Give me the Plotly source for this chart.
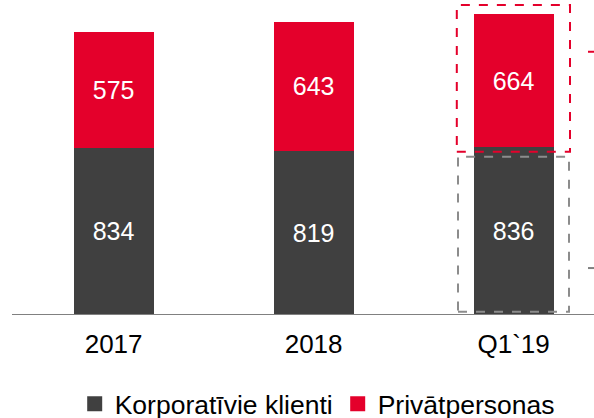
import plotly.graph_objects as go

categories = ["2017", "2018", "Q1`19"]
korporativie = [834, 819, 836]
privatpersonas = [575, 643, 664]
series_names = ["Korporatīvie klienti", "Privātpersonas"]

DARK = "#404040"
RED = "#E4002B"
FONT = "Liberation Sans, Arial, sans-serif"
FS = 25

x_idx = list(range(len(categories)))

fig = go.Figure()
fig.add_trace(go.Bar(
    x=x_idx, y=korporativie, name=series_names[0], showlegend=False,
    marker=dict(color=DARK, line=dict(width=0)), width=0.4,
    text=[str(v) for v in korporativie], textposition="inside",
    insidetextanchor="middle", textfont=dict(color="white", size=FS, family=FONT),
    constraintext="none", hoverinfo="skip",
))
fig.add_trace(go.Bar(
    x=x_idx, y=privatpersonas, name=series_names[1], showlegend=False,
    marker=dict(color=RED, line=dict(width=0)), width=0.4,
    text=[str(v) for v in privatpersonas], textposition="inside",
    insidetextanchor="middle", textfont=dict(color="white", size=FS, family=FONT),
    constraintext="none", hoverinfo="skip",
))
# legend entries with square swatches
for nm, col in zip(series_names, [DARK, RED]):
    fig.add_trace(go.Scatter(
        x=[None], y=[None], mode="markers", name=nm,
        marker=dict(symbol="square", size=15, color=col),
    ))

last = len(categories) - 1
bottom = korporativie[last]
total = korporativie[last] + privatpersonas[last]

shapes = [
    # baseline axis
    dict(type="line", xref="x", yref="y", x0=-0.508, x1=2.402, y0=0, y1=0,
         line=dict(color="#808080", width=2)),
    # red dashed box around last private segment
    dict(type="rect", xref="x", yref="y", x0=last - 0.284, x1=last + 0.282,
         y0=bottom - 22, y1=total + 45,
         line=dict(color=RED, width=2, dash="dash")),
    # gray dashed box around last corporate segment
    dict(type="rect", xref="x", yref="y", x0=last - 0.278, x1=last + 0.277,
         y0=16, y1=bottom - 47,
         line=dict(color="#8c8c8c", width=2, dash="dash")),
    # cut-off markers at right edge
    dict(type="line", xref="x", yref="y", x0=2.372, x1=2.402, y0=1312, y1=1312,
         line=dict(color=RED, width=2)),
    dict(type="line", xref="x", yref="y", x0=2.372, x1=2.402, y0=234, y1=234,
         line=dict(color="#808080", width=2)),
]

fig.update_layout(
    width=594, height=418,
    margin=dict(l=0, r=0, t=0, b=103, autoexpand=False),
    paper_bgcolor="white", plot_bgcolor="white",
    barmode="stack",
    showlegend=True,
    legend=dict(orientation="h", x=0.534, xanchor="center", y=-0.283, yanchor="middle",
                font=dict(size=26.5, family=FONT, color="black"), traceorder="normal",
                itemwidth=30),
    xaxis=dict(range=[-0.568, 2.402], tickmode="array", tickvals=x_idx, ticktext=categories,
               showgrid=False, zeroline=False, showline=False, ticks="",
               tickfont=dict(size=26, family=FONT, color="black"), ticklabelstandoff=11),
    yaxis=dict(range=[0, 1570], visible=False, showgrid=False, zeroline=False),
    shapes=shapes,
    font=dict(family=FONT),
)

fig.write_html(
    "out.html",
    config={"displayModeBar": False},
    post_script="document.body.style.margin='0';document.body.style.overflow='hidden';",
)
